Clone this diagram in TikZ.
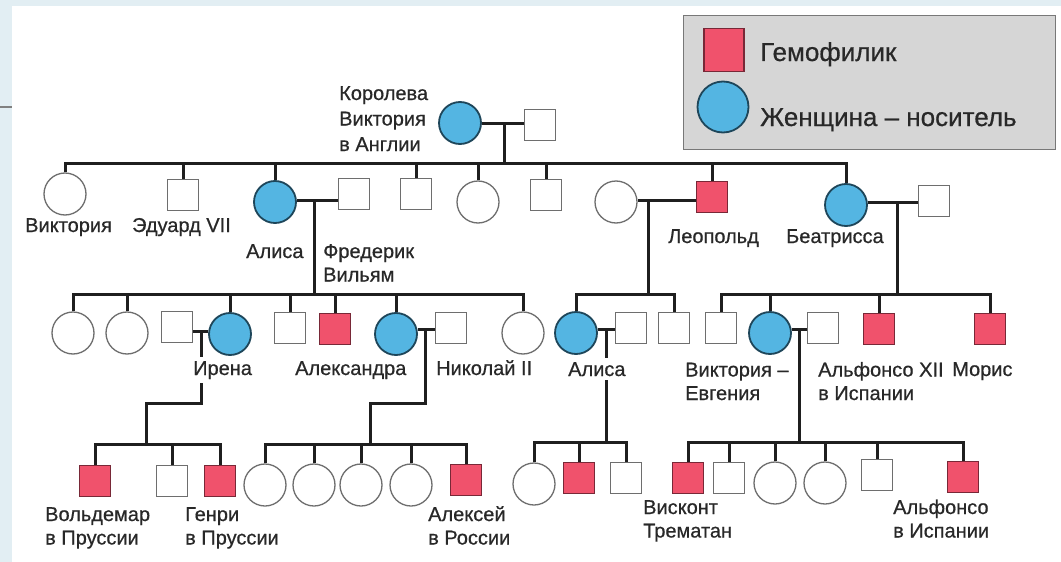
\documentclass[tikz,border=0pt]{standalone}
\usepackage{fontspec}
\setmainfont{Liberation Sans}[FakeBold=0.6]
\definecolor{carrier}{RGB}{84,181,226}
\definecolor{carrierline}{RGB}{30,70,90}
\definecolor{hemo}{RGB}{240,82,108}
\definecolor{hemoline}{RGB}{120,40,55}
\definecolor{symline}{RGB}{110,110,110}
\definecolor{legbg}{RGB}{214,214,214}
\definecolor{legline}{RGB}{120,120,120}
\definecolor{slide}{RGB}{226,238,243}
\definecolor{txt}{RGB}{40,40,40}
\begin{document}
\begin{tikzpicture}[x=1pt,y=-1pt,
  sq/.style={rectangle, draw=symline, line width=1.3pt, fill=white, minimum size=31pt, inner sep=0pt},
  hsq/.style={sq, fill=hemo, draw=hemoline},
  fc/.style={circle, draw=symline, line width=1.3pt, fill=white, minimum size=42pt, inner sep=0pt},
  cc/.style={fc, fill=carrier, draw=carrierline, line width=1.8pt},
  ln/.style={line width=3pt, black!88},
  lbl/.style={anchor=base west, inner sep=0pt, align=left, text=txt, font=\fontsize{20}{23.5}\selectfont},
  wlbl/.style={lbl, fill=white, inner ysep=4pt},
  leg/.style={anchor=base west, inner sep=0pt, text=txt, font=\fontsize{26}{30}\selectfont}
]
\useasboundingbox (0,0) rectangle (1061,562);
\fill[slide] (0,0) rectangle (1061,562);
\fill[white] (12,6) rectangle (1061,562);
\draw[gray, line width=2pt] (0,107) -- (12,107);

% legend
\node[rectangle, draw=legline, fill=legbg, line width=1.3pt, minimum width=372pt, minimum height=134pt, anchor=north west] (legend) at (683,15) {};
\node[hsq, minimum width=40pt, minimum height=43pt] (lsq) at (724,50) {};
\node[cc, minimum size=51pt] (lci) at (723,107) {};
\node[leg] (lt1) at (760,61) {Гемофилик};
\node[leg] (lt2) at (760,126) {Женщина – носитель};

% generation 0
\node[cc] (qv) at (460,123) {};
\node[sq] (qh) at (540,125) {};
\coordinate (m0) at (504,123);
\coordinate (b1) at (504,163);

% generation 1
\node[fc] (vic) at (65,194) {};
\node[sq] (edw) at (183,195) {};
\node[cc] (ali) at (275,202) {};
\node[sq] (fw) at (354,194) {};
\node[sq] (s1d) at (416,194) {};
\node[fc] (c1e) at (478,202) {};
\node[sq] (s1f) at (546,195) {};
\node[fc] (lw) at (616,202) {};
\node[hsq] (leo) at (712,197) {};
\node[cc] (bea) at (846,205) {};
\node[sq] (bh) at (934,201) {};
\coordinate (m1) at (314,200);
\coordinate (m2) at (648,200);
\coordinate (m3) at (897,202);
\coordinate (b2a) at (314,294);
\coordinate (b2b) at (648,294);
\coordinate (b2c) at (897,294);

% generation 2
\node[fc] (g2a) at (73,333) {};
\node[fc] (g2b) at (127,333) {};
\node[sq] (irh) at (177,327) {};
\node[cc] (ire) at (230,334) {};
\node[sq] (g2e) at (290,328) {};
\node[hsq] (fri) at (335,329) {};
\node[cc] (alx) at (396,334) {};
\node[sq] (nik) at (451,328) {};
\node[fc] (mar) at (523,333) {};
\node[cc] (al2) at (576,333) {};
\node[sq] (a2h) at (631,328) {};
\node[sq] (g2l) at (674,328) {};
\node[sq] (g2m) at (721,328) {};
\node[cc] (ve) at (770,333) {};
\node[sq] (veh) at (823,328) {};
\node[hsq] (g2o) at (879,329) {};
\node[hsq] (mor) at (990,329) {};
\coordinate (m4) at (201,331);
\coordinate (j4) at (146,403);
\coordinate (b3a) at (146,444);
\coordinate (m5) at (425,329);
\coordinate (j5) at (370,403);
\coordinate (b3b) at (370,444);
\coordinate (m6) at (606,329);
\coordinate (b3c) at (606,442);
\coordinate (m7) at (799,329);
\coordinate (b3d) at (799,442);

% generation 3
\node[hsq] (wol) at (95,481) {};
\node[sq] (g3b) at (172,481) {};
\node[hsq] (hen) at (220,481) {};
\node[fc] (d1) at (265,485) {};
\node[fc] (d2) at (314,485) {};
\node[fc] (d3) at (361,485) {};
\node[fc] (d4) at (411,485) {};
\node[hsq] (alk) at (466,480) {};
\node[fc] (e1) at (534,484) {};
\node[hsq] (e2) at (579,478) {};
\node[sq] (e3) at (626,478) {};
\node[hsq] (vis) at (688,478) {};
\node[sq] (f2) at (729,478) {};
\node[fc] (f3) at (775,483) {};
\node[fc] (f4) at (825,483) {};
\node[sq] (f5) at (877,475) {};
\node[hsq] (alf) at (963,477) {};

% connectors
\draw[ln] (qv.east |- m0) -- (qh.west |- m0);
\draw[ln] (m0) -- (b1);
\draw[ln] (vic.north) |- (bea.north |- b1) -- (bea.north);
\foreach \n in {edw,ali,s1d,c1e,s1f,leo} \draw[ln] (\n.north) -- (\n.north |- b1);

\draw[ln] (ali.east |- m1) -- (fw.west |- m1);
\draw[ln] (lw.east |- m2) -- (leo.west |- m2);
\draw[ln] (bea.east |- m3) -- (bh.west |- m3);
\draw[ln] (m1) -- (b2a);
\draw[ln] (m2) -- (b2b);
\draw[ln] (m3) -- (b2c);

\draw[ln] (g2a.north) |- (mar.north |- b2a) -- (mar.north);
\foreach \n in {g2b,ire,g2e,fri,alx} \draw[ln] (\n.north) -- (\n.north |- b2a);
\draw[ln] (al2.north) |- (g2l.north |- b2b) -- (g2l.north);
\draw[ln] (g2m.north) |- (mor.north |- b2c) -- (mor.north);
\foreach \n in {ve,g2o} \draw[ln] (\n.north) -- (\n.north |- b2c);

\draw[ln] (irh.east |- m4) -- (ire.west |- m4);
\draw[ln] (alx.east |- m5) -- (nik.west |- m5);
\draw[ln] (al2.east |- m6) -- (a2h.west |- m6);
\draw[ln] (ve.east |- m7) -- (veh.west |- m7);
\draw[ln] (m4) |- (j4) -- (b3a);
\draw[ln] (m5) |- (j5) -- (b3b);
\draw[ln] (m6) -- (b3c);
\draw[ln] (m7) -- (b3d);

\draw[ln] (wol.north) |- (hen.north |- b3a) -- (hen.north);
\draw[ln] (g3b.north) -- (g3b.north |- b3a);
\draw[ln] (d1.north) |- (alk.north |- b3b) -- (alk.north);
\foreach \n in {d2,d3,d4} \draw[ln] (\n.north) -- (\n.north |- b3b);
\draw[ln] (e1.north) |- (e3.north |- b3c) -- (e3.north);
\draw[ln] (e2.north) -- (e2.north |- b3c);
\draw[ln] (vis.north) |- (alf.north |- b3d) -- (alf.north);
\foreach \n in {f2,f3,f4,f5} \draw[ln] (\n.north) -- (\n.north |- b3d);

% labels (base anchor = baseline of the last line)
\node[lbl, font=\fontsize{20}{25.5}\selectfont] (tqv) at (339,151) {Королева\\Виктория\\в Англии};
\node[lbl] (tvic) at (25,232) {Виктория};
\node[lbl] (tedw) at (132,232) {Эдуард VII};
\node[lbl] (tali) at (246,258) {Алиса};
\node[lbl] (tfw) at (323,281.5) {Фредерик\\Вильям};
\node[lbl] (tleo) at (668,243) {Леопольд};
\node[lbl] (tbea) at (786,243) {Беатрисса};
\node[wlbl] (tire) at (193,375) {Ирена};
\node[lbl] (talx) at (295,375) {Александра};
\node[lbl] (tnik) at (436,375) {Николай II};
\node[wlbl] (tal2) at (568,376) {Алиса};
\node[lbl] (tve) at (685,400) {Виктория –\\Евгения};
\node[lbl] (tveh) at (818,400) {Альфонсо XII\\в Испании};
\node[lbl] (tmor) at (952,376) {Морис};
\node[lbl] (twol) at (45,544.5) {Вольдемар\\в Пруссии};
\node[lbl] (then) at (185,544.5) {Генри\\в Пруссии};
\node[lbl] (talk) at (428,544.5) {Алексей\\в России};
\node[lbl] (tvis) at (643,537.5) {Висконт\\Трематан};
\node[lbl] (talf) at (893,537.5) {Альфонсо\\в Испании};
\end{tikzpicture}
\end{document}
